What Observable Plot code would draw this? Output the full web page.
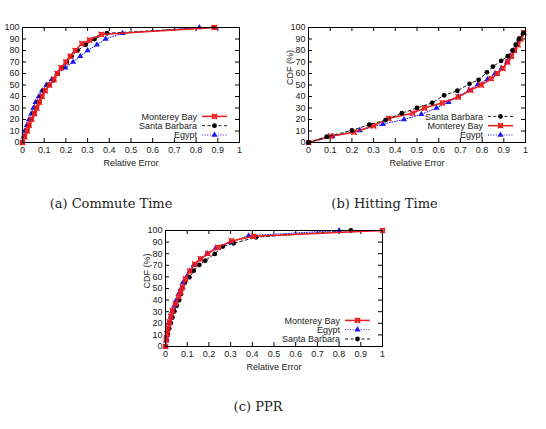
<!DOCTYPE html>
<html>
<head>
<meta charset="utf-8">
<script src="https://cdn.jsdelivr.net/npm/d3@7"></script>
<script src="https://cdn.jsdelivr.net/npm/@observablehq/plot@0.6"></script>
<style>
  body { margin: 0; background: #fff; }
  #fig { position: relative; width: 546px; height: 429px; background: #fff; overflow: hidden; }
  .panel { position: absolute; }
  .cap { position: absolute; font-family: "DejaVu Serif", "Liberation Serif", serif; font-size: 13px;
         color: #222; white-space: nowrap; transform: translate(-50%, -50%); }
</style>
</head>
<body>
<div id="fig"></div>
<script>
// Axis ticks shared by all three panels
const xTicks = [0, 0.1, 0.2, 0.3, 0.4, 0.5, 0.6, 0.7, 0.8, 0.9, 1];
const xTickLabels = ["0", "0.1", "0.2", "0.3", "0.4", "0.5", "0.6", "0.7", "0.8", "0.9", "1"];
const yTicks = [0, 10, 20, 30, 40, 50, 60, 70, 80, 90, 100];

// (a) Commute Time: relative error vs CDF (%)
const commuteMontereyErr = [0, 0.01, 0.022, 0.03, 0.042, 0.055, 0.066, 0.078, 0.09, 0.105, 0.125, 0.145, 0.16, 0.178, 0.2, 0.22, 0.243, 0.274, 0.309, 0.363, 0.885];
const commuteMontereyCdf = [0, 5, 10, 15, 20, 25, 30, 35, 40, 45, 50, 55, 60, 65, 70, 75, 80, 86, 89, 94, 100];
const commuteSantaErr = [0, 0.008, 0.02, 0.029, 0.04, 0.051, 0.063, 0.074, 0.086, 0.097, 0.12, 0.143, 0.162, 0.183, 0.205, 0.226, 0.254, 0.291, 0.332, 0.389, 0.88];
const commuteSantaCdf = [0, 5, 10, 15, 20, 25, 30, 35, 40, 45, 50, 54, 60, 65, 70, 75, 80, 85, 90, 95, 100];
const commuteEgyptErr = [0, 0.005, 0.01, 0.02, 0.03, 0.04, 0.05, 0.06, 0.075, 0.09, 0.11, 0.135, 0.16, 0.198, 0.233, 0.266, 0.3, 0.343, 0.383, 0.461, 0.815];
const commuteEgyptCdf = [0, 5, 10, 15, 20, 25, 30, 35, 40, 45, 50, 55, 60, 65, 70, 75, 80, 85, 90, 95, 100];

// (b) Hitting Time
const hittingSantaErr = [0, 0.084, 0.2, 0.28, 0.355, 0.43, 0.5, 0.57, 0.625, 0.686, 0.742, 0.784, 0.822, 0.85, 0.888, 0.918, 0.94, 0.955, 0.97, 0.99];
const hittingSantaCdf = [0, 5, 10.5, 15.5, 19.5, 25.5, 30, 34.5, 41, 45, 51, 54.5, 61, 66, 71, 75, 80, 85, 90, 95];
const hittingMontereyErr = [0, 0.103, 0.21, 0.3, 0.37, 0.48, 0.535, 0.617, 0.69, 0.747, 0.796, 0.842, 0.87, 0.896, 0.918, 0.935, 0.95, 0.965, 0.978, 0.992];
const hittingMontereyCdf = [0, 5.5, 9, 14.5, 21, 25.5, 30, 34.5, 39.5, 45.5, 50, 55.5, 60, 64.5, 70, 75, 80, 85, 90, 95.5];
const hittingEgyptErr = [0, 0.11, 0.236, 0.343, 0.44, 0.52, 0.59, 0.645, 0.69, 0.74, 0.78, 0.825, 0.86, 0.89, 0.915, 0.93, 0.945, 0.96, 0.97, 0.99];
const hittingEgyptCdf = [0, 5.4, 10.5, 16, 20, 24.5, 30, 35, 40, 45.5, 50.5, 55, 60, 64.5, 70, 75, 80, 85, 90, 95];

// (c) PPR
const pprMontereyErr = [0, 0.003, 0.007, 0.012, 0.018, 0.025, 0.032, 0.046, 0.061, 0.07, 0.078, 0.092, 0.112, 0.135, 0.161, 0.195, 0.241, 0.304, 0.406, 1.0];
const pprMontereyCdf = [0, 6, 11, 16, 21, 26, 31, 37, 43, 47, 51, 58, 65, 71, 75.5, 80, 85.5, 91, 95, 100];
const pprEgyptErr = [0, 0.003, 0.007, 0.012, 0.017, 0.023, 0.03, 0.04, 0.05, 0.06, 0.072, 0.08, 0.097, 0.112, 0.13, 0.16, 0.192, 0.23, 0.3, 0.383, 0.8];
const pprEgyptCdf = [0, 5, 10, 15, 20, 25, 30, 35, 40, 45, 50, 55, 60, 65, 70, 75, 80, 84.5, 90, 95.5, 100];
const pprSantaErr = [0, 0.005, 0.011, 0.017, 0.025, 0.032, 0.041, 0.052, 0.063, 0.071, 0.077, 0.089, 0.11, 0.13, 0.156, 0.183, 0.227, 0.264, 0.314, 0.417, 0.854];
const pprSantaCdf = [0, 5.5, 10.7, 15.6, 20.2, 25, 30.3, 35.2, 40, 45.2, 50.1, 55, 59.7, 65.4, 70.3, 74, 79.8, 86.2, 89, 94.2, 100];

const captions = ["(a) Commute Time", "(b) Hitting Time", "(c) PPR"];

// Line/point style of each dataset
const styles = {
  "Monterey Bay": { color: "#ee1d1d", width: 1.5, dash: null, marker: "boxx" },
  "Santa Barbara": { color: "#000000", width: 0.9, dash: "3,2.5", marker: "circle" },
  "Egypt": { color: "#1a1aee", width: 1, dash: "1,1.6", marker: "triangle" }
};
const markerSize = { circle: 2.4, triangle: 2.3, square: 2.1, times: 2.6 };

const zip = (xs, ys) => xs.map((x, i) => ({ x, y: ys[i] }));

function seriesMarks(name, data) {
  const s = styles[name];
  const marks = [Plot.line(data, { x: "x", y: "y", stroke: s.color, strokeWidth: s.width, strokeDasharray: s.dash })];
  if (s.marker === "circle") {
    marks.push(Plot.dot(data, { x: "x", y: "y", r: markerSize.circle, fill: s.color }));
  } else if (s.marker === "triangle") {
    marks.push(Plot.dot(data, { x: "x", y: "y", r: markerSize.triangle, symbol: "triangle", fill: s.color }));
  } else {
    marks.push(Plot.dot(data, { x: "x", y: "y", r: markerSize.square, symbol: "square", stroke: s.color, strokeWidth: 1.1, fill: "none" }));
    marks.push(Plot.dot(data, { x: "x", y: "y", r: markerSize.times, symbol: "times", stroke: s.color, strokeWidth: 1.1 }));
  }
  return marks;
}

// Key drawn in the lower right corner of the frame
function keyMark(names) {
  return (index, scales, values, dims) => {
    const g = d3.create("svg:g")
      .attr("font-family", "'Liberation Sans', Arial, sans-serif")
      .attr("font-size", 9).attr("fill", "#222");
    const right = dims.width - dims.marginRight;
    const bottom = dims.height - dims.marginBottom;
    names.forEach((name, i) => {
      const s = styles[name];
      const y = bottom - 25.6 + i * 9.3;
      g.append("text").attr("x", right - 42).attr("y", y).attr("dy", "0.35em")
        .attr("text-anchor", "end").text(name);
      g.append("line").attr("x1", right - 37).attr("x2", right - 12).attr("y1", y).attr("y2", y)
        .attr("stroke", s.color).attr("stroke-width", s.width)
        .attr("stroke-dasharray", s.dash);
      const sym = g.append("g").attr("transform", `translate(${right - 24.5},${y})`);
      const area = r => Math.PI * r * r;
      if (s.marker === "circle") {
        sym.append("path").attr("d", d3.symbol(d3.symbolCircle, area(markerSize.circle))()).attr("fill", s.color);
      } else if (s.marker === "triangle") {
        sym.append("path").attr("d", d3.symbol(d3.symbolTriangle, area(markerSize.triangle))()).attr("fill", s.color);
      } else {
        sym.append("path").attr("d", d3.symbol(d3.symbolSquare, area(markerSize.square))())
          .attr("fill", "none").attr("stroke", s.color).attr("stroke-width", 1.1);
        sym.append("path").attr("d", d3.symbol(d3.symbolTimes, area(markerSize.times))())
          .attr("fill", "none").attr("stroke", s.color).attr("stroke-width", 1.1);
      }
    });
    return g.node();
  };
}

function panel({ left, top, width, height, margin, series, key, yLabel }) {
  const plotW = width - margin.left - margin.right;
  const plotH = height - margin.top - margin.bottom;
  const marks = [
    Plot.tickX(xTicks, { x: d => d, insetTop: plotH - 4, stroke: "#000" }),
    Plot.tickX(xTicks, { x: d => d, insetBottom: plotH - 4, stroke: "#000" }),
    Plot.tickY(yTicks, { y: d => d, insetRight: plotW - 4, stroke: "#000" }),
    Plot.tickY(yTicks, { y: d => d, insetLeft: plotW - 4, stroke: "#000" }),
    Plot.axisX(xTicks, { tickSize: 0, tickPadding: 4.5, label: null, tickFormat: d => xTickLabels[xTicks.indexOf(d)] }),
    Plot.axisY(yTicks, { tickSize: 0, tickPadding: 3, label: null }),
    Plot.text(["Relative Error"], { frameAnchor: "bottom", dy: 23, text: d => d }),
  ];
  if (yLabel) marks.push(Plot.text([yLabel], { frameAnchor: "left", dx: -18, rotate: -90, text: d => d }));
  for (const [name, xs, ys] of series) marks.push(...seriesMarks(name, zip(xs, ys)));
  marks.push(keyMark(key));
  marks.push(Plot.frame({ stroke: "#000" }));

  const svg = Plot.plot({
    width, height,
    marginLeft: margin.left, marginRight: margin.right, marginTop: margin.top, marginBottom: margin.bottom,
    x: { domain: [0, 1], label: null },
    y: { domain: [0, 100], label: null },
    style: { fontFamily: "'Liberation Sans', Arial, sans-serif", fontSize: "9px", color: "#222", background: "transparent" },
    marks
  });
  const wrap = document.createElement("div");
  wrap.className = "panel";
  wrap.style.left = left + "px";
  wrap.style.top = top + "px";
  wrap.appendChild(svg);
  document.getElementById("fig").appendChild(wrap);
}

panel({
  left: 0, top: 0, width: 250, height: 175,
  margin: { left: 22, right: 11, top: 27, bottom: 33 },
  series: [
    ["Egypt", commuteEgyptErr, commuteEgyptCdf],
    ["Santa Barbara", commuteSantaErr, commuteSantaCdf],
    ["Monterey Bay", commuteMontereyErr, commuteMontereyCdf]
  ],
  key: ["Monterey Bay", "Santa Barbara", "Egypt"],
  yLabel: null
});

panel({
  left: 275, top: 0, width: 271, height: 175,
  margin: { left: 33, right: 21, top: 27, bottom: 33 },
  series: [
    ["Egypt", hittingEgyptErr, hittingEgyptCdf],
    ["Monterey Bay", hittingMontereyErr, hittingMontereyCdf],
    ["Santa Barbara", hittingSantaErr, hittingSantaCdf]
  ],
  key: ["Santa Barbara", "Monterey Bay", "Egypt"],
  yLabel: "CDF (%)"
});

panel({
  left: 130, top: 200, width: 270, height: 190,
  margin: { left: 35, right: 18, top: 30, bottom: 44 },
  series: [
    ["Santa Barbara", pprSantaErr, pprSantaCdf],
    ["Egypt", pprEgyptErr, pprEgyptCdf],
    ["Monterey Bay", pprMontereyErr, pprMontereyCdf]
  ],
  key: ["Monterey Bay", "Egypt", "Santa Barbara"],
  yLabel: "CDF (%)"
});

// Sub-figure captions
const capPos = [[111, 203], [384.5, 203], [258, 406]];
captions.forEach((t, i) => {
  const d = document.createElement("div");
  d.className = "cap";
  d.style.left = capPos[i][0] + "px";
  d.style.top = capPos[i][1] + "px";
  d.textContent = t;
  document.getElementById("fig").appendChild(d);
});
</script>
</body>
</html>
